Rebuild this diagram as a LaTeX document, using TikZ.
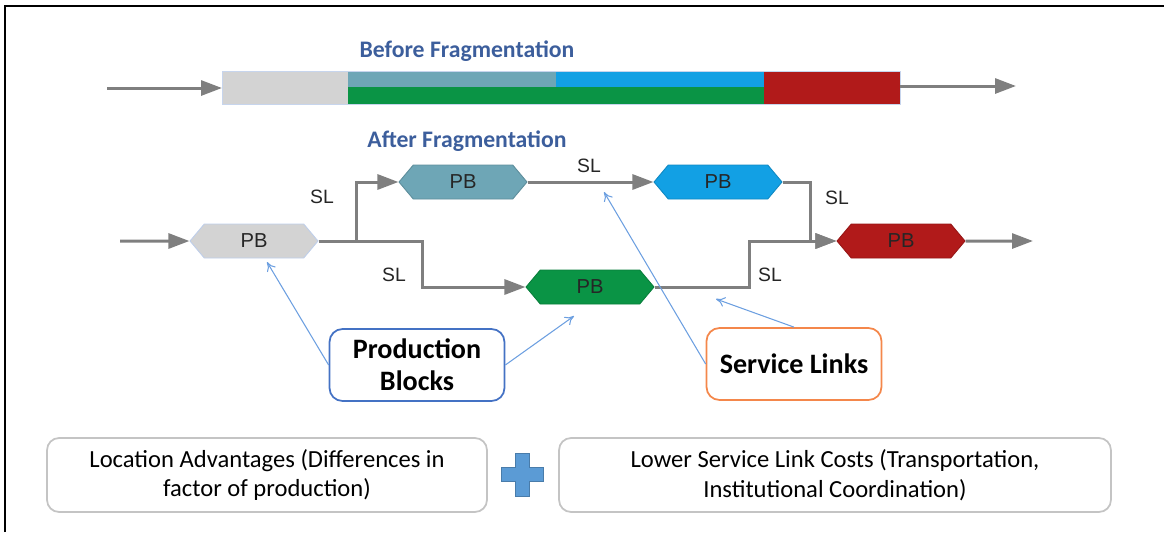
\documentclass[tikz,border=0pt]{standalone}
\usepackage{fontspec}
\setmainfont{Carlito}
\newfontfamily\pbfont{Liberation Sans}
\usetikzlibrary{arrows.meta,shapes.symbols,positioning}

\definecolor{linkgray}{HTML}{7F7F7F}
\definecolor{headblue}{HTML}{3C5E9C}
\definecolor{pbgray}{HTML}{D3D3D3}
\definecolor{pbteal}{HTML}{6EA6B6}
\definecolor{pbblue}{HTML}{12A0E4}
\definecolor{pbgreen}{HTML}{0A9445}
\definecolor{pbred}{HTML}{B11A1A}
\definecolor{noteblue}{HTML}{6C9FE0}
\definecolor{prodblue}{HTML}{4472C4}
\definecolor{servorange}{HTML}{F4874B}
\definecolor{boxgray}{HTML}{C4C4C4}
\definecolor{plusblue}{HTML}{5B9BD5}

\begin{document}
\begin{tikzpicture}[x=0.02cm, y=-0.02cm,
        link/.style = {draw=linkgray, line width=0.06cm, -{Triangle[length=0.42cm, width=0.3cm]}},
        note/.style = {draw=noteblue, line width=0.6pt, -{To[length=0.18cm, width=0.2cm]}},
        pb/.style = {signal, signal to=east and west, signal pointer angle=100, draw=#1!85!black, fill=#1, line width=0.5pt,
                     minimum width=2.56cm, minimum height=0.68cm, inner sep=0pt, font=\pbfont\fontsize{11.5}{13}\selectfont, text=black!85},
        sl/.style = {font=\pbfont\fontsize{11}{13}\selectfont, text=black!85},
        head/.style = {font=\bfseries\fontsize{13.5}{16}\selectfont, text=headblue},
        callout/.style = {draw=#1, rounded corners=0.26cm, line width=1pt, minimum width=3.5cm, minimum height=1.44cm,
                          align=center, font=\bfseries\fontsize{16}{18}\selectfont},
        factor/.style = {draw=boxgray, rounded corners=0.24cm, line width=1pt, minimum height=1.48cm,
                         align=center, font=\fontsize{14}{17}\selectfont}]
        \useasboundingbox (0,0) rectangle (1164,532);
        \draw[line width=0.04cm] (5,532) -- (5,6) -- (1164,6);

        % before fragmentation
        \node[head] (before) at (467,51) {Before Fragmentation};
        \fill[pbgray] (222,71) rectangle (348,104);
        \fill[pbteal] (348,71) rectangle (556,87);
        \fill[pbblue] (556,71) rectangle (764,87);
        \fill[pbgreen] (348,87) rectangle (764,104);
        \fill[pbred] (764,71) rectangle (900,104);
        \draw[draw=prodblue!30, line width=0.5pt] (222,71) rectangle (900,104);
        \coordinate (barin) at (222,88);
        \coordinate (barout) at (900,86);
        \coordinate (start) at (107,88);
        \coordinate (end) at (1016,86);
        \draw[link] (start) -- (barin);
        \draw[link] (barout) -- (end);

        % after fragmentation
        \node[head] (after) at (467,141) {After Fragmentation};
        \node[pb=pbgray, draw=prodblue!35] (pb1) at (254,241) {PB};
        \node[pb=pbteal] (pb2) at (463,182) {PB};
        \node[pb=pbblue] (pb3) at (718,182) {PB};
        \node[pb=pbgreen] (pb4) at (590,287) {PB};
        \node[pb=pbred] (pb5) at (901,241) {PB};
        \coordinate (in) at (120,241);
        \coordinate (out) at (1033,241);

        \draw[link] (in) -- (pb1);
        \draw[link] (pb1.east) -- ++(38,0) |- (pb2.west);
        \draw[link] (pb1.east) -- ++(104,0) |- (pb4.west);
        \draw[link] (pb2) -- (pb3);
        \draw[link] (pb3.east) -- ++(28,0) |- (pb5.west);
        \draw[link] (pb4.east) -- ++(95,0) |- (pb5.west);
        \draw[link] (pb5) -- (out);

        \node[sl] (sl1) at (322,197) {SL};
        \node[sl] (sl2) at (394,275) {SL};
        \node[sl] (sl3) at (589,166) {SL};
        \node[sl] (sl4) at (837,198) {SL};
        \node[sl] (sl5) at (770,275) {SL};

        % callouts
        \node[callout=prodblue] (prod) at (417,365) {Production\\[0pt]Blocks};
        \node[callout=servorange] (serv) at (794,364) {Service Links};
        \coordinate (t1) at (267,262);
        \coordinate (t2) at (574,316);
        \coordinate (t3) at (604,192);
        \coordinate (t4) at (716,299);
        \draw[note] (prod.west) -- (t1);
        \draw[note] (prod.east) -- (t2);
        \draw[note] (serv.west) -- (t3);
        \draw[note] (serv.north) -- (t4);

        % factors
        \node[factor, minimum width=8.8cm] (loc) at (267,475) {Location Advantages (Differences in\\factor of production)};
        \node[factor, minimum width=11.04cm] (cost) at (835,475) {Lower Service Link Costs (Transportation,\\Institutional Coordination)};
        \fill[plusblue, draw=plusblue!80!black, line width=0.4pt]
            (515,453) -- (529,453) -- (529,467) -- (543,467) -- (543,481) -- (529,481) -- (529,496)
            -- (515,496) -- (515,481) -- (501,481) -- (501,467) -- (515,467) -- cycle;
    \end{tikzpicture}
\end{document}
